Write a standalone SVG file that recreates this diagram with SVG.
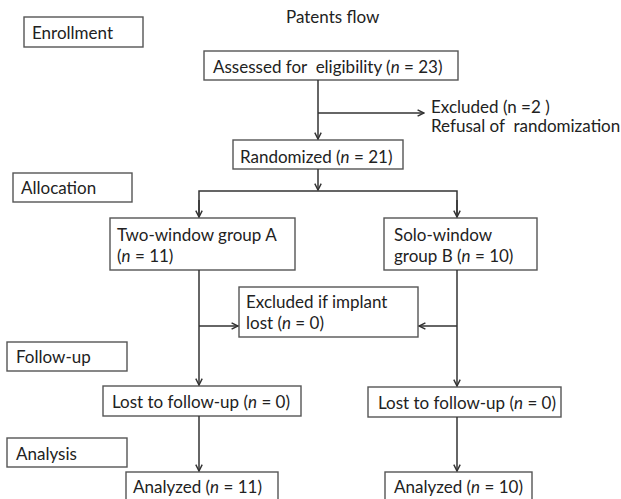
<svg xmlns="http://www.w3.org/2000/svg" width="621" height="499" viewBox="0 0 621 499">
<style>
.box{fill:#fff;stroke:#555;stroke-width:1.4}
.t{font-family:Lato,"Liberation Sans",sans-serif;font-size:17px;fill:#222;white-space:pre}
.i{font-style:italic}
.c{fill:none;stroke:#333;stroke-width:1.5}
</style>
<defs>
<marker id="ah" viewBox="0 0 10 10" refX="9" refY="5" markerWidth="8" markerHeight="8" orient="auto" markerUnits="userSpaceOnUse">
<path d="M1,1 L9,5 L1,9" fill="none" stroke="#333" stroke-width="1.8"/>
</marker>
</defs>
<rect width="621" height="499" fill="#fff"/>
<text class="t" x="286" y="23">Patents flow</text>
<g id="enrollment"><rect class="box" x="24" y="17" width="119" height="30"/><text class="t" x="32" y="39">Enrollment</text></g>
<g id="allocation"><rect class="box" x="13" y="173" width="119" height="29"/><text class="t" x="21" y="194">Allocation</text></g>
<g id="followup"><rect class="box" x="7" y="342" width="120" height="29"/><text class="t" x="16" y="363">Follow-up</text></g>
<g id="analysis"><rect class="box" x="7" y="438" width="120" height="29"/><text class="t" x="16" y="460">Analysis</text></g>
<g id="assessed"><rect class="box" x="204" y="51" width="254" height="29"/><text class="t" x="213" y="73" xml:space="preserve">Assessed for  eligibility (<tspan class="i">n</tspan> = 23)</text></g>
<g id="excluded1"><text class="t" x="431" y="113">Excluded (n =2 )</text><text class="t" x="431" y="132" xml:space="preserve">Refusal of  randomization</text></g>
<g id="randomized"><rect class="box" x="233" y="140" width="170" height="29"/><text class="t" x="240" y="163">Randomized (<tspan class="i">n</tspan> = 21)</text></g>
<g id="groupA"><rect class="box" x="110" y="218" width="185" height="52"/><text class="t" x="117" y="241">Two-window group A</text><text class="t" x="117" y="262">(<tspan class="i">n</tspan> = 11)</text></g>
<g id="groupB"><rect class="box" x="384" y="218" width="153" height="52"/><text class="t" x="394" y="241">Solo-window</text><text class="t" x="394" y="262">group B (<tspan class="i">n</tspan> = 10)</text></g>
<g id="excluded2"><rect class="box" x="239" y="287" width="179" height="50"/><text class="t" x="246" y="308">Excluded if implant</text><text class="t" x="246" y="329">lost (<tspan class="i">n</tspan> = 0)</text></g>
<g id="lostA"><rect class="box" x="103" y="386" width="198" height="30"/><text class="t" x="112" y="408">Lost to follow-up (<tspan class="i">n</tspan> = 0)</text></g>
<g id="lostB"><rect class="box" x="368" y="387" width="193" height="30"/><text class="t" x="378" y="409">Lost to follow-up (<tspan class="i">n</tspan> = 0)</text></g>
<g id="analyzedA"><rect class="box" x="126" y="472" width="152" height="34"/><text class="t" x="133" y="493">Analyzed (<tspan class="i">n</tspan> = 11)</text></g>
<g id="analyzedB"><rect class="box" x="385" y="472" width="147" height="34"/><text class="t" x="394" y="493">Analyzed (<tspan class="i">n</tspan> = 10)</text></g>
<g id="connectors">
<path class="c" d="M318,80 V139" marker-end="url(#ah)"/>
<path class="c" d="M318,113 H424" marker-end="url(#ah)"/>
<path class="c" d="M318,169 V190" marker-end="url(#ah)"/>
<path class="c" d="M199,217 V191 H457 V217"/>
<path class="c" d="M199,200 V217" marker-end="url(#ah)"/>
<path class="c" d="M457,200 V217" marker-end="url(#ah)"/>
<path class="c" d="M199,270 V385" marker-end="url(#ah)"/>
<path class="c" d="M199,326 H238" marker-end="url(#ah)"/>
<path class="c" d="M457,270 V386" marker-end="url(#ah)"/>
<path class="c" d="M457,326 H419" marker-end="url(#ah)"/>
<path class="c" d="M199,416 V471" marker-end="url(#ah)"/>
<path class="c" d="M457,417 V471" marker-end="url(#ah)"/>
</g>
</svg>
